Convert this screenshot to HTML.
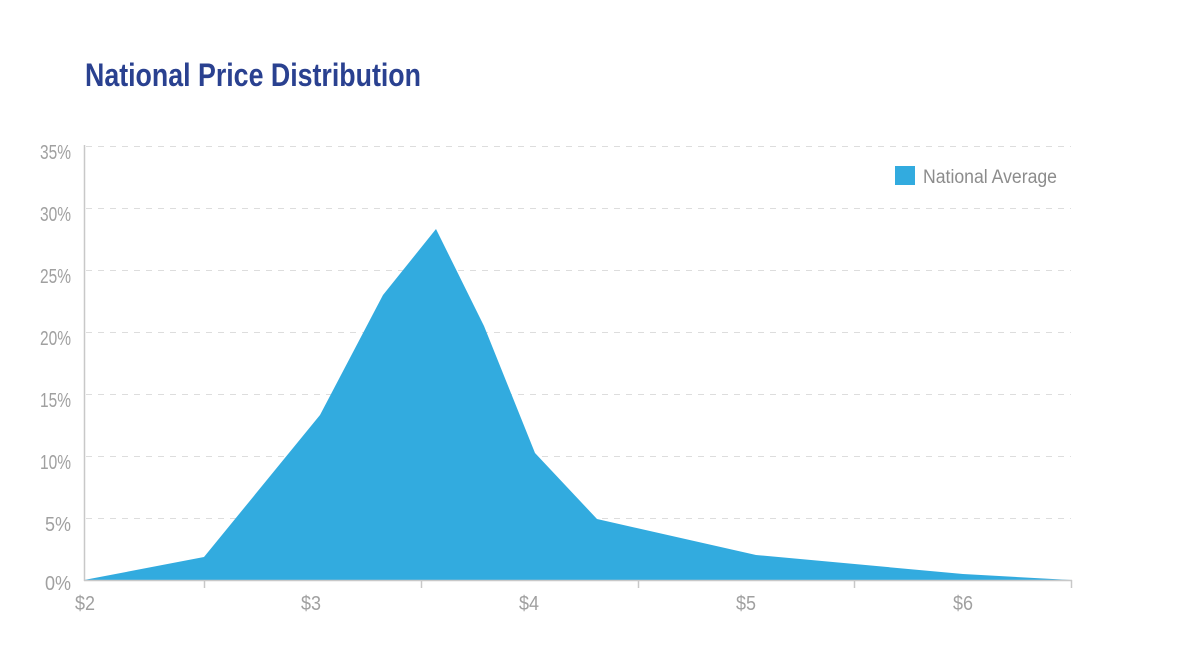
<!DOCTYPE html>
<html><head><meta charset="utf-8"><style>
html,body{margin:0;padding:0;background:#fff;}
svg{display:block;}
</style></head><body>
<svg width="1180" height="668" viewBox="0 0 1180 668" xmlns="http://www.w3.org/2000/svg">
<text x="85" y="86" font-family="'Liberation Sans Narrow','Liberation Sans',sans-serif" font-weight="bold" font-size="32" fill="#2a4190" textLength="336" lengthAdjust="spacingAndGlyphs">National Price Distribution</text>
<g stroke="#dddddd" stroke-width="1" stroke-dasharray="6,6">
<line x1="86" y1="146.5" x2="1071" y2="146.5"/>
<line x1="86" y1="208.5" x2="1071" y2="208.5"/>
<line x1="86" y1="270.5" x2="1071" y2="270.5"/>
<line x1="86" y1="332.5" x2="1071" y2="332.5"/>
<line x1="86" y1="394.5" x2="1071" y2="394.5"/>
<line x1="86" y1="456.5" x2="1071" y2="456.5"/>
<line x1="86" y1="518.5" x2="1071" y2="518.5"/>
</g>
<polygon fill="#32abdf" points="84,580 204,557 320,415 383,295 436,229 484,326 535,453 597,519 756,555 963,574 1071,580"/>
<line x1="84.5" y1="145" x2="84.5" y2="581" stroke="#c8c8c8" stroke-width="1.5"/>
<line x1="84" y1="580.5" x2="1072" y2="580.5" stroke="#c8c8c8" stroke-width="1.5"/>
<g stroke="#c8c8c8" stroke-width="1.5">
<line x1="204.5" y1="580" x2="204.5" y2="588"/>
<line x1="421.5" y1="580" x2="421.5" y2="588"/>
<line x1="638.5" y1="580" x2="638.5" y2="588"/>
<line x1="854.5" y1="580" x2="854.5" y2="588"/>
<line x1="1071.5" y1="580" x2="1071.5" y2="588"/>
</g>
<g font-family="'Liberation Sans Narrow','Liberation Sans',sans-serif" font-size="20" fill="#a0a0a0">
<text x="40" y="159" textLength="31" lengthAdjust="spacingAndGlyphs">35%</text>
<text x="40" y="221" textLength="31" lengthAdjust="spacingAndGlyphs">30%</text>
<text x="40" y="283" textLength="31" lengthAdjust="spacingAndGlyphs">25%</text>
<text x="40" y="345" textLength="31" lengthAdjust="spacingAndGlyphs">20%</text>
<text x="40" y="407" textLength="31" lengthAdjust="spacingAndGlyphs">15%</text>
<text x="40" y="469" textLength="31" lengthAdjust="spacingAndGlyphs">10%</text>
<text x="45" y="531" textLength="26" lengthAdjust="spacingAndGlyphs">5%</text>
<text x="45" y="590" textLength="26" lengthAdjust="spacingAndGlyphs">0%</text>
</g>
<g font-family="'Liberation Sans Narrow','Liberation Sans',sans-serif" font-size="20" fill="#a0a0a0">
<text x="75" y="610" textLength="20" lengthAdjust="spacingAndGlyphs">$2</text>
<text x="301" y="610" textLength="20" lengthAdjust="spacingAndGlyphs">$3</text>
<text x="519" y="610" textLength="20" lengthAdjust="spacingAndGlyphs">$4</text>
<text x="736" y="610" textLength="20" lengthAdjust="spacingAndGlyphs">$5</text>
<text x="953" y="610" textLength="20" lengthAdjust="spacingAndGlyphs">$6</text>
</g>
<rect x="895" y="166" width="20" height="19" fill="#32abdf"/>
<text x="923" y="183" font-family="'Liberation Sans Narrow','Liberation Sans',sans-serif" font-size="19" fill="#8c8c8c" textLength="134" lengthAdjust="spacingAndGlyphs">National Average</text>
</svg>
</body></html>
